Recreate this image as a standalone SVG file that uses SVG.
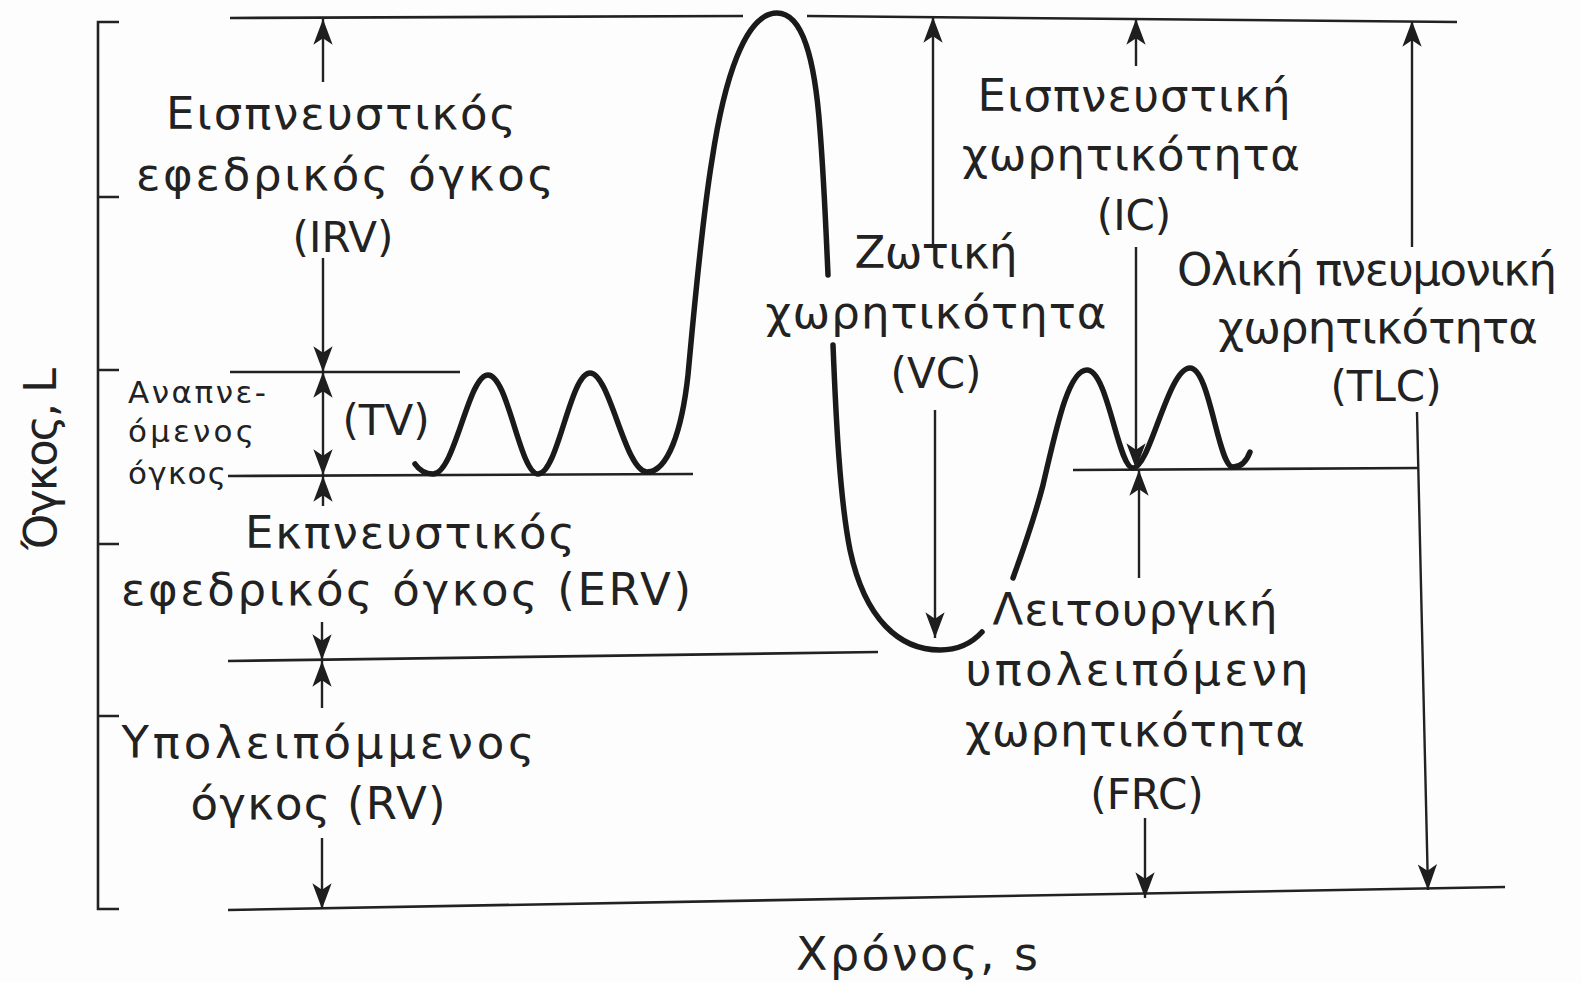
<svg xmlns="http://www.w3.org/2000/svg" width="1581" height="983" viewBox="0 0 1581 983">
<defs>
<marker id="ah" markerUnits="userSpaceOnUse" markerWidth="30" markerHeight="30" viewBox="-24 -12 28 24" refX="0" refY="0" orient="auto">
<path d="M0,0 L-24,-9 L-18,0 L-24,9 Z" fill="#1e1e1e"/>
</marker>
</defs>
<style>
.ln{stroke:#222;stroke-width:2.6;fill:none}
.ar{stroke:#222;stroke-width:2.4;fill:none;marker-end:url(#ah)}
.cv{stroke:#1a1a1a;stroke-width:5.5;fill:none;stroke-linecap:round;stroke-linejoin:round}
.t{font-family:"DejaVu Sans","Noto Sans",sans-serif;font-size:45px;fill:#222;text-anchor:middle}
.p{font-family:"DejaVu Sans","Noto Sans",sans-serif;font-size:42px;fill:#222;text-anchor:middle}
.s{font-family:"DejaVu Sans","Noto Sans",sans-serif;font-size:31px;fill:#222}
</style>
<rect width="1581" height="983" fill="#fdfdfd"/>

<g id="axis">
<path class="ln" d="M119,22 H98 V909 H119 M98,197 H119 M98,370 H119 M98,544 H119 M98,716 H119"/>
<text class="t" transform="translate(56,459) rotate(-90)" textLength="182" lengthAdjust="spacing">Όγκος, L</text>
<text class="t" x="917" y="970" style="font-size:46px" textLength="242" lengthAdjust="spacing">Χρόνος, s</text>
</g>

<g id="levels">
<path class="ln" d="M230,18 L743,16 M807,16 L1457,22"/>
<path class="ln" d="M230,372 L460,372"/>
<path class="ln" d="M228,476 L693,474"/>
<path class="ln" d="M228,661 L878,652"/>
<path class="ln" d="M228,910 L1505,887"/>
<path class="ln" d="M1073,470 L1418,468"/>
</g>

<g id="curve">
<path class="cv" d="M415,464 Q422,474 433,474 C455,474 468,375 488,375 C508,375 520,474 538,474 C558,474 570,373 590,373 C610,373 625,472 647,472 C668,472 682,430 688,375 C695,300 702,220 712,160 C724,80 745,13 777,13 C803,13 815,60 820,130 C824,180 826,230 828,275"/>
<path class="cv" d="M833,345 C836,420 840,500 850,550 C865,620 900,650 940,650 C958,650 972,643 982,632"/>
<path class="cv" d="M1013,578 C1025,545 1036,512 1043,485 C1056,430 1068,370 1087,370 C1108,370 1118,468 1133,468 C1150,468 1168,368 1190,368 C1210,368 1218,467 1233,467 C1242,467 1247,460 1250,452"/>
</g>

<g id="connectors">
<path class="ar" d="M323,82 V19"/>
<path class="ar" d="M323,258 V372"/>
<path class="ar" d="M323,424 V372"/>
<path class="ar" d="M323,424 V475"/>
<path class="ar" d="M323,506 V476"/>
<path class="ar" d="M322,622 V660"/>
<path class="ar" d="M322,708 V661"/>
<path class="ar" d="M322,838 V909"/>
<path class="ar" d="M933,248 V17"/>
<path class="ar" d="M935,410 V638"/>
<path class="ar" d="M1136,66 V19"/>
<path class="ar" d="M1136,247 V469"/>
<path class="ar" d="M1139,578 V470"/>
<path class="ar" d="M1145,818 V898"/>
<path class="ar" d="M1412,247 V21"/>
<path class="ar" d="M1417,412 L1428,890"/>
</g>

<g id="irv"><text class="t" x="341" y="129" textLength="350" lengthAdjust="spacing">Εισπνευστικός</text><text class="t" x="345" y="190" textLength="418" lengthAdjust="spacing">εφεδρικός όγκος</text><text class="p" x="343" y="252">(IRV)</text></g>
<g id="tv"><text class="s" x="128" y="403" textLength="138" lengthAdjust="spacing">Αναπνε-</text><text class="s" x="128" y="442" textLength="126" lengthAdjust="spacing">όμενος</text><text class="s" x="128" y="484" textLength="98" lengthAdjust="spacing">όγκος</text><text class="p" x="386" y="435">(TV)</text></g>
<g id="erv"><text class="t" x="410" y="548" textLength="330" lengthAdjust="spacing">Εκπνευστικός</text><text class="t" x="406" y="605" textLength="570" lengthAdjust="spacing">εφεδρικός όγκος (ERV)</text></g>
<g id="rv"><text class="t" x="328" y="758" textLength="413" lengthAdjust="spacing">Υπολειπόμμενος</text><text class="t" x="318" y="819" textLength="255" lengthAdjust="spacing">όγκος (RV)</text></g>
<g id="vc"><text class="t" x="936" y="268" textLength="163" lengthAdjust="spacing">Ζωτική</text><text class="t" x="936" y="328" textLength="341" lengthAdjust="spacing">χωρητικότητα</text><text class="p" x="936" y="388">(VC)</text></g>
<g id="ic"><text class="t" x="1134" y="111" textLength="313" lengthAdjust="spacing">Εισπνευστική</text><text class="t" x="1131" y="170" textLength="338" lengthAdjust="spacing">χωρητικότητα</text><text class="p" x="1134" y="230">(IC)</text></g>
<g id="tlc"><text class="t" x="1367" y="285" textLength="380" lengthAdjust="spacing">Ολική πνευμονική</text><text class="t" x="1378" y="343" textLength="320" lengthAdjust="spacing">χωρητικότητα</text><text class="p" x="1386" y="401">(TLC)</text></g>
<g id="frc"><text class="t" x="1135" y="625" textLength="285" lengthAdjust="spacing">Λειτουργική</text><text class="t" x="1137" y="685" textLength="343" lengthAdjust="spacing">υπολειπόμενη</text><text class="t" x="1135" y="746" textLength="340" lengthAdjust="spacing">χωρητικότητα</text><text class="p" x="1147" y="809">(FRC)</text></g>
</svg>
